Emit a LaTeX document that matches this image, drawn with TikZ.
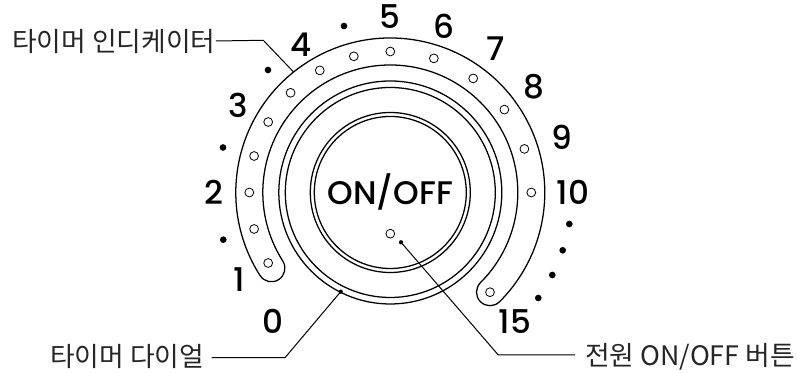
\documentclass[tikz,border=0pt]{standalone}
\usepackage{fontspec}
\setmainfont{Poppins}[UprightFont=* Medium]
\newfontfamily\krfont{Noto Sans CJK KR}
\tikzset{
    ring/.style={line width=0.95pt},
    led/.style={circle, draw, fill=white, line width=0.6pt, minimum size=6.6pt, inner sep=0pt},
    tickdot/.style={circle, fill=black, minimum size=5pt, inner sep=0pt},
    digit/.style={font=\fontsize{24.5}{25}\selectfont, inner sep=0pt},
    callout/.style={font=\krfont\fontsize{20.1}{22}\selectfont, inner sep=0pt, anchor=west, text=black!85},
    leader/.style={line width=0.75pt},
    pin/.style={circle, fill=black, minimum size=3.2pt, inner sep=0pt},
}
\begin{document}
\begin{tikzpicture}[x=0.75pt, y=0.75pt]
    \useasboundingbox (0, 0) rectangle (797, 373);
    \begin{scope}[shift={(390.3, 180.5)}]
        % band with the lamps
        \draw[ring] (212.5:154.5) arc[start angle=212.5, end angle=-45, radius=154.5]
            arc[start angle=-45, end angle=-225, radius=13.5]
            arc[start angle=-45, end angle=212.5, radius=127.5]
            arc[start angle=32.5, end angle=-147.5, radius=13.5] -- cycle;
        \foreach \r in {111.5, 105, 80, 76}
            \draw[ring] (0, 0) circle[radius=\r];
        \foreach \a in {90, 105, ..., 210, 72, 54, 36, 18, 0, -45}
            \node[led] (lamp\a) at (\a:141) {};
        % scale
        \foreach \n/\x/\y in {0/-117.6/-129.2, 1/-151.3/-87.5, 2/-176.3/0, 3/-152/87.5, 4/-89.3/147.5,
                              5/0/175.5, 6/53.4/165.8, 7/105.4/143.5, 8/143.4/105.5, 9/172/55.5,
                              10/182.7/0.2, 15/124.7/-129.2}
            \node[digit] (num\n) at (\x, \y) {\n};
        \foreach \i/\x/\y in {1/-167/-47.2, 2/-167.3/45, 3/-122.3/122.5, 4/-46.3/166.5,
                              5/179/-31.5, 6/172.4/-57.8, 7/162/-82.5, 8/148/-105.5}
            \node[tickdot] (dot\i) at (\x, \y) {};
        \node[digit] (power) at (0, 0.3) {ON/OFF};
        \node[led] (powerlamp) at (0, -41.2) {};
    \end{scope}
    \node[callout] (indicatorlabel) at (12, 332) {타이머 인디케이터};
    \node[callout] (diallabel) at (50, 16.5) {타이머 다이얼};
    \node[callout] (powerlabel) at (585, 16.5) {전원 ON/OFF 버튼};
    \coordinate (indicatorbend) at (263.3, 332.7);
    \coordinate (indicatortip) at (293.3, 301.3);
    \coordinate (dialstart) at (211.7, 15.3);
    \coordinate (dialbend) at (285, 15.3);
    \node[pin] (dialpin) at (340.7, 81.3) {};
    \coordinate (powerend) at (575, 18);
    \coordinate (powerbend) at (498.3, 18);
    \node[pin] (powerpin) at (401, 130.7) {};
    \draw[leader] (indicatorlabel.east) -- (indicatorbend) -- (indicatortip);
    \draw[leader] (dialstart) -- (dialbend) -- (dialpin.center);
    \draw[leader] (powerend) -- (powerbend) -- (powerpin.center);
\end{tikzpicture}
\end{document}
